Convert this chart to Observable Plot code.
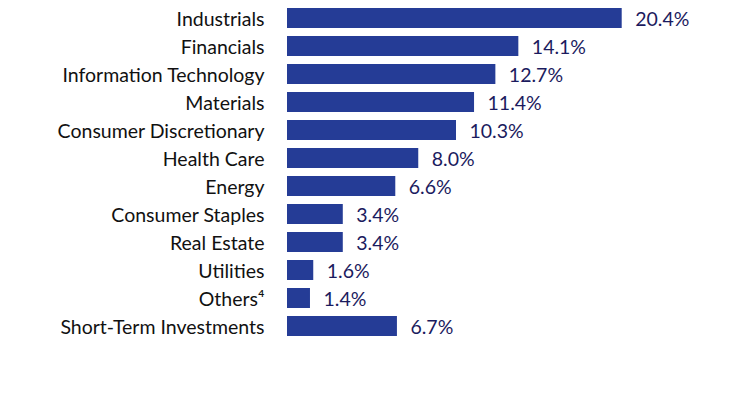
<!DOCTYPE html>
<html>
<head>
<meta charset="utf-8">
<script src="https://cdn.jsdelivr.net/npm/d3@7"></script>
<script src="https://cdn.jsdelivr.net/npm/@observablehq/plot@0.6"></script>
<style>
  html, body { margin: 0; padding: 0; background: #fff; }
</style>
</head>
<body>
<div id="chart"></div>
<script>
const categories = [
  "Industrials",
  "Financials",
  "Information Technology",
  "Materials",
  "Consumer Discretionary",
  "Health Care",
  "Energy",
  "Consumer Staples",
  "Real Estate",
  "Utilities",
  "Others\u2074",
  "Short-Term Investments"
];
const values = [20.4, 14.1, 12.7, 11.4, 10.3, 8.0, 6.6, 3.4, 3.4, 1.6, 1.4, 6.7];
const valueLabels = ["20.4%", "14.1%", "12.7%", "11.4%", "10.3%", "8.0%", "6.6%", "3.4%", "3.4%", "1.6%", "1.4%", "6.7%"];

const data = categories.map((c, i) => ({category: c, value: values[i], label: valueLabels[i]}));

const chart = Plot.plot({
  width: 732,
  height: 408,
  marginLeft: 287,
  marginRight: 110.3,
  marginTop: 0,
  marginBottom: 63.6,
  style: {fontFamily: "Lato, 'Open Sans', sans-serif", fontSize: "19.5px", background: "#fff"},
  x: {domain: [0, 20.4], axis: null},
  y: {domain: categories, padding: 0.3, label: null},
  marks: [
    Plot.barX(data, {x: "value", y: "category", fill: "#253C96"}),
    Plot.text(data, {x: "value", y: "category", text: "label", dx: 13, dy: 1, textAnchor: "start", fill: "#1b1b5e", fontSize: 19.5}),
    Plot.axisY({tickSize: 0, tickPadding: 23, fontSize: 19.5, fill: "#111", label: null, dy: 1})
  ]
});
document.getElementById("chart").appendChild(chart);
</script>
</body>
</html>
